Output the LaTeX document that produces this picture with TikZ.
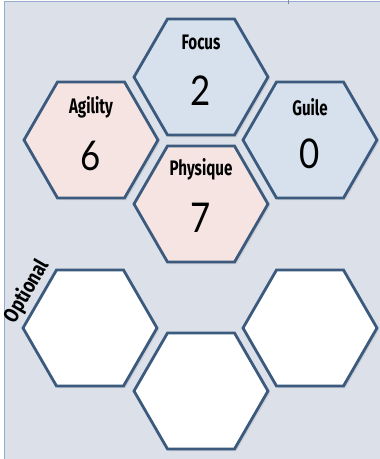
\documentclass[tikz,border=0pt]{standalone}
\usepackage{fontspec}
\usetikzlibrary{shapes.geometric, shadows}
\newfontfamily\statfont{Fira Sans}
\newfontfamily\digitfont{Lato}
\definecolor{panelbg}{RGB}{220,224,233}
\definecolor{panelline}{RGB}{148,173,209}
\definecolor{hexline}{RGB}{59,90,125}
\definecolor{hexblue}{RGB}{214,225,237}
\definecolor{hexpink}{RGB}{245,228,226}
\begin{document}
\begin{tikzpicture}[x=1pt,y=-1pt,
    hexagon/.style={regular polygon, regular polygon sides=6, minimum size=134pt,
        inner sep=0pt, draw=hexline, line width=2.8pt, line join=miter,
        drop shadow={opacity=0.18, shadow xshift=2pt, shadow yshift=-2pt}},
    bluehex/.style={hexagon, fill=hexblue},
    pinkhex/.style={hexagon, fill=hexpink},
    emptyhex/.style={hexagon, fill=white},
    statname/.style={font=\statfont\bfseries\fontsize{21}{23}\selectfont, xscale=0.72, inner sep=0pt},
    statvalue/.style={font=\digitfont\fontsize{41}{44}\selectfont, xscale=0.85, inner sep=0pt}]
    \useasboundingbox (0,0) rectangle (380,459);
    \fill[white] (0,0) rectangle (380,459);
    \fill[panelbg] (4,2) rectangle (380,459);
    \draw[panelline, line width=1.5pt] (4.5,1) -- (4.5,459);
    \draw[panelline, line width=1.5pt] (4,1.5) -- (380,1.5);
    \draw[hexline!70, line width=1pt] (288,0) -- (288,4);
    % the four stats
    \node[bluehex] (focus) at (201,77) {};
    \node[pinkhex] (agility) at (91,140) {};
    \node[bluehex] (guile) at (310,140) {};
    \node[pinkhex] (physique) at (201,204) {};
    \foreach \hex/\name/\val/\up/\down in {focus/Focus/2/35/14, agility/Agility/6/33/16,
        guile/Guile/0/33/14, physique/Physique/7/35/14} {
        \node[statname] at ([yshift=\up pt]\hex.center) {\name};
        \node[statvalue] at ([yshift=-\down pt]\hex.center) {\val};
    }
    % optional slots
    \node[emptyhex] (optleft) at (90,328) {};
    \node[emptyhex] (optright) at (310,328) {};
    \node[emptyhex] (optmid) at (201,391) {};
    \node[rotate=60, statname, xscale=1.15, anchor=south] (optional) at (36,297) {Optional};
\end{tikzpicture}
\end{document}
